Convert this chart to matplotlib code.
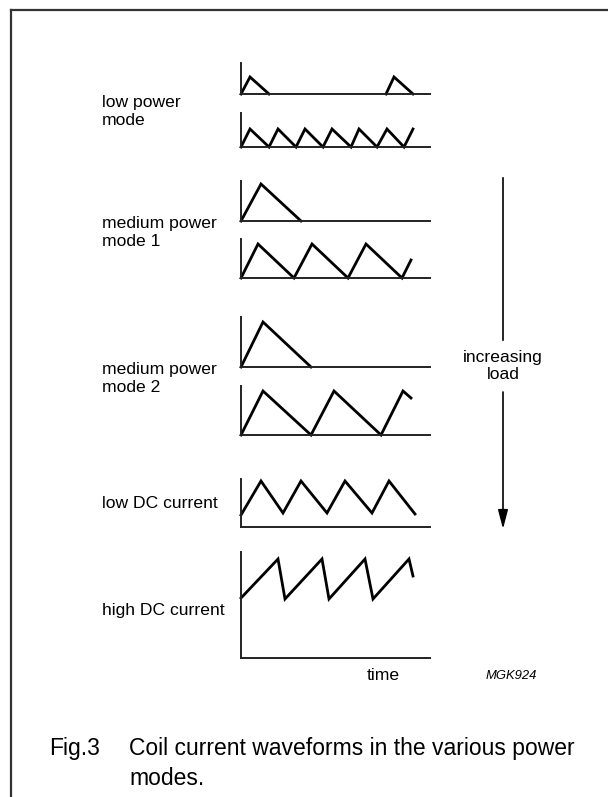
import matplotlib.pyplot as plt

plt.rcParams['font.family'] = ['Liberation Sans', 'DejaVu Sans']

W, H = 608, 797

# waveform data: time (arbitrary units) and coil current (arbitrary units)
low1_t = [0, 0.9, 2.8]
low1_i = [0, 1.7, 0]
low1b_t = [14.5, 15.3, 17.2]
low1b_i = [0, 1.7, 0]

low2_t = [0, 0.9, 2.8, 3.7, 5.5, 6.4, 8.2, 9.1, 11.0, 11.8, 13.6, 14.6, 16.3, 17.2]
low2_i = [0, 1.8, 0, 1.8, 0, 1.8, 0, 1.8, 0, 1.8, 0, 1.8, 0, 1.8]

med1a_t = [0, 2.0, 6.0]
med1a_i = [0, 3.7, 0]
med1b_t = [0, 1.7, 5.3, 7.1, 10.7, 12.5, 16.1, 17.0]
med1b_i = [0, 3.4, 0, 3.4, 0, 3.4, 0, 1.8]

med2a_t = [0, 2.2, 7.0]
med2a_i = [0, 4.5, 0]
med2b_t = [0, 2.2, 7.0, 9.3, 14.0, 16.2, 17.0]
med2b_i = [0, 4.4, 0, 4.4, 0, 4.4, 3.7]

lowdc_t = [0, 2.0, 4.2, 6.0, 8.6, 10.4, 13.1, 14.8, 17.4]
lowdc_i = [1.2, 4.6, 1.4, 4.6, 1.4, 4.6, 1.4, 4.6, 1.3]

highdc_t = [0, 3.7, 4.4, 8.1, 8.8, 12.4, 13.2, 16.8, 17.2]
highdc_i = [6.0, 9.9, 5.9, 9.9, 5.9, 9.9, 5.9, 9.9, 8.2]

# panel layout: (top px, baseline px, list of (t, i) series)
panels = [
    (63, 94, [(low1_t, low1_i), (low1b_t, low1b_i)]),
    (113, 147, [(low2_t, low2_i)]),
    (181, 221, [(med1a_t, med1a_i)]),
    (239, 278, [(med1b_t, med1b_i)]),
    (317, 367, [(med2a_t, med2a_i)]),
    (386, 435, [(med2b_t, med2b_i)]),
    (479, 527, [(lowdc_t, lowdc_i)]),
    (552, 658, [(highdc_t, highdc_i)]),
]

labels = ['low power\nmode', 'medium power\nmode 1', 'medium power\nmode 2',
          'low DC current', 'high DC current']
label_y = [111.5, 232.5, 378.5, 503, 611]

fig = plt.figure(figsize=(W / 100, H / 100), dpi=100)

x0, x1 = 241, 430
for top, base, series in panels:
    ax = fig.add_axes([x0 / W, 1 - base / H, (x1 - x0) / W, (base - top) / H])
    for t, i in series:
        ax.plot(t, i, color='black', lw=2.0, solid_joinstyle='miter', clip_on=False)
    ax.set_xlim(0, (x1 - x0) / 10)
    ax.set_ylim(0, (base - top) / 10)
    ax.set_xticks([])
    ax.set_yticks([])
    for s in ['top', 'right']:
        ax.spines[s].set_visible(False)
    for s in ['left', 'bottom']:
        ax.spines[s].set_linewidth(1.4)
        ax.spines[s].set_color('#222222')
    ax.patch.set_alpha(0)

# overlay in pixel coordinates for frame, labels and arrow
ov = fig.add_axes([0, 0, 1, 1], zorder=-1)
ov.set_xlim(0, W)
ov.set_ylim(H, 0)
ov.axis('off')

ov.plot([11, W], [10, 10], color='#333333', lw=1.6)
ov.plot([11, 11], [10, H], color='#333333', lw=1.6)

for lab, y in zip(labels, label_y):
    ov.text(102, y, lab, fontsize=12.6, ha='left', va='center', linespacing=1.3)

ov.plot([503, 503], [178, 340], color='black', lw=1.2)
ov.annotate('', xy=(503, 529), xytext=(503, 392),
            arrowprops=dict(arrowstyle='-|>,head_length=1.15,head_width=0.3',
                            color='black', lw=1.2, shrinkA=0, shrinkB=0))
ov.text(503, 366, 'increasing\nload', fontsize=12.6, ha='center', va='center',
        linespacing=1.1)

ov.text(383, 676, 'time', fontsize=12.6, ha='center', va='center')
ov.text(511, 676, 'MGK924', fontsize=9.4, style='italic', ha='center', va='center')

ov.text(49, 748, 'Fig.3', fontsize=16.5, ha='left', va='center')
ov.text(129, 763.5, 'Coil current waveforms in the various power\nmodes.',
        fontsize=16.5, ha='left', va='center', linespacing=1.4)

fig.savefig('out.png', dpi=100)
